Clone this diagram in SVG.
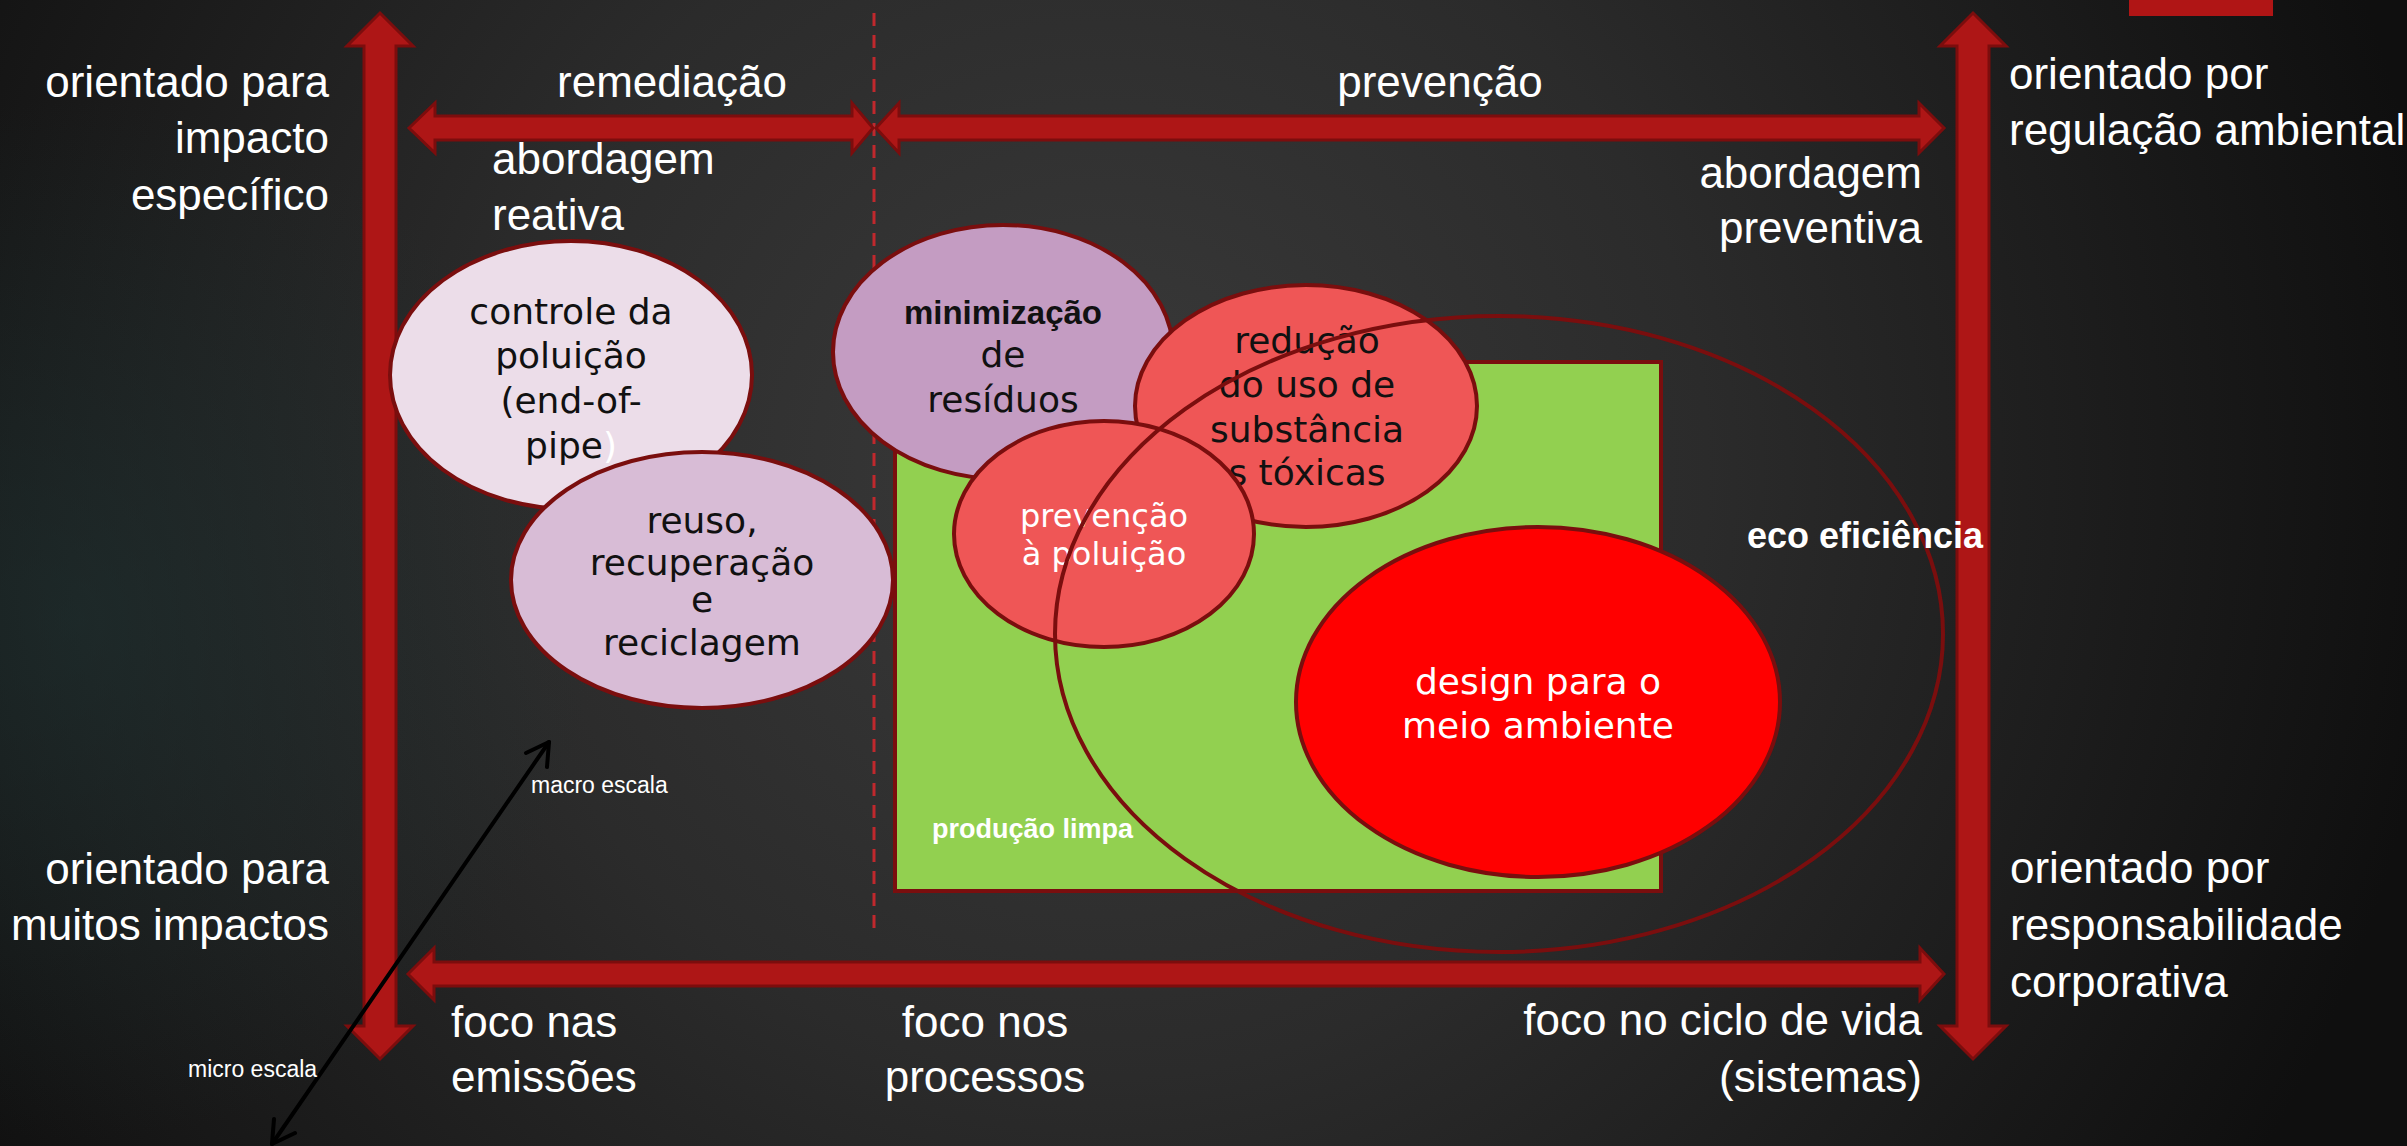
<svg xmlns="http://www.w3.org/2000/svg" width="2407" height="1146" viewBox="0 0 2407 1146">
  <defs>
    <radialGradient id="bg" cx="1100" cy="470" r="1350" gradientUnits="userSpaceOnUse">
      <stop offset="0" stop-color="#3a3a3a"/>
      <stop offset="0.45" stop-color="#2b2b2b"/>
      <stop offset="1" stop-color="#0f0f0f"/>
    </radialGradient>
    <radialGradient id="teal" cx="80" cy="620" r="520" gradientUnits="userSpaceOnUse">
      <stop offset="0" stop-color="#1f3434" stop-opacity="0.55"/>
      <stop offset="1" stop-color="#1f3434" stop-opacity="0"/>
    </radialGradient>
    <style>
      .lbl { font-family: "Liberation Sans", Arial, sans-serif; font-size: 44px; fill: #ffffff; }
      .small { font-family: "Liberation Sans", Arial, sans-serif; font-size: 23px; fill: #ffffff; }
      .bold { font-family: "Liberation Sans", Arial, sans-serif; font-weight: bold; fill: #ffffff; }
      .node { font-family: "DejaVu Sans", "Liberation Sans", sans-serif; font-size: 36px; fill: #111111; text-anchor: middle; }
      .wnode { font-family: "DejaVu Sans", "Liberation Sans", sans-serif; fill: #ffffff; text-anchor: middle; }
      .arrow { fill: #ae1616; stroke: #7c0d0d; stroke-width: 3; stroke-linejoin: miter; }
      .ell { stroke: #7a0e0e; stroke-width: 4; }
      .blk { fill: none; stroke: #000000; stroke-width: 4; stroke-linecap: round; stroke-linejoin: round; }
    </style>
  </defs>

  <rect x="0" y="0" width="2407" height="1146" fill="url(#bg)"/>
  <rect x="0" y="0" width="2407" height="1146" fill="url(#teal)"/>
  <rect x="2129" y="0" width="144" height="16" fill="#b01515"/>

  <g id="connectors">
    <!-- dashed divider -->
    <line x1="874" y1="13" x2="874" y2="937" stroke="#c0282d" stroke-width="3" stroke-dasharray="13 9"/>
    <!-- left vertical double arrow -->
    <polygon class="arrow" points="380,13 413,46 396,46 396,1026 413,1026 380,1059 347,1026 364,1026 364,46 347,46"/>
    <!-- right vertical double arrow -->
    <polygon class="arrow" points="1973,13 2006,46 1989,46 1989,1026 2006,1026 1973,1059 1940,1026 1957,1026 1957,46 1940,46"/>
    <!-- remediação arrow -->
    <polygon class="arrow" points="409,128 435,103 435,116 852,116 852,103 873,128 852,153 852,140 435,140 435,153"/>
    <!-- prevenção arrow -->
    <polygon class="arrow" points="876,128 899,103 899,116 1919,116 1919,103 1944,128 1919,153 1919,140 899,140 899,153"/>
    <!-- bottom arrow -->
    <polygon class="arrow" points="408,974 434,948 434,962 1920,962 1920,948 1944,974 1920,1000 1920,986 434,986 434,1000"/>
    <!-- micro/macro scale arrow -->
    <line class="blk" x1="272" y1="1144" x2="549" y2="742"/>
    <polyline class="blk" points="526,753 549,742 547,767"/>
    <polyline class="blk" points="274,1119 272,1144 295,1133"/>
  </g>

  <g id="producao-limpa">
    <rect x="895" y="362" width="766" height="529" fill="#92d050" stroke="#7a0e0e" stroke-width="4"/>
    <text class="bold" x="932" y="838" font-size="27">produção limpa</text>
  </g>

  <g id="controle-poluicao">
    <ellipse class="ell" cx="571" cy="375" rx="181" ry="134" fill="#ecdde9"/>
    <text class="node" x="571" y="324">controle da</text>
    <text class="node" x="571" y="368">poluição</text>
    <text class="node" x="571" y="413">(end-of-</text>
    <text class="node" x="571" y="458">pipe<tspan fill="#ffffff">)</tspan></text>
  </g>

  <g id="reuso">
    <ellipse class="ell" cx="702" cy="580" rx="191" ry="128" fill="#d8bcd6"/>
    <text class="node" x="702" y="533" font-size="37">reuso,</text>
    <text class="node" x="702" y="575" font-size="33">recuperação</text>
    <text class="node" x="702" y="612" font-size="33">e</text>
    <text class="node" x="702" y="655" font-size="37">reciclagem</text>
  </g>

  <g id="minimizacao">
    <ellipse class="ell" cx="1003" cy="352" rx="170" ry="127" fill="#c49cc2"/>
    <text class="node" x="1003" y="324" style="font-family:'Liberation Sans',Arial,sans-serif;font-weight:bold;font-size:33px">minimização</text>
    <text class="node" x="1003" y="367" font-size="35">de</text>
    <text class="node" x="1003" y="412" font-size="35">resíduos</text>
  </g>

  <g id="reducao">
    <ellipse class="ell" cx="1306" cy="406" rx="171" ry="121" fill="#ef5656"/>
    <text class="node" x="1307" y="353" font-size="35">redução</text>
    <text class="node" x="1307" y="397" font-size="35">do uso de</text>
    <text class="node" x="1307" y="442" font-size="35">substância</text>
    <text class="node" x="1307" y="485" font-size="35">s tóxicas</text>
  </g>

  <g id="prevencao-poluicao">
    <ellipse class="ell" cx="1104" cy="534" rx="150" ry="113" fill="#ef5656"/>
    <text class="wnode" x="1104" y="527" font-size="32">prevenção</text>
    <text class="wnode" x="1104" y="565" font-size="32">à poluição</text>
  </g>

  <g id="design">
    <ellipse class="ell" cx="1538" cy="702" rx="242" ry="175" fill="#ff0000"/>
    <text class="wnode" x="1538" y="694" font-size="36">design para o</text>
    <text class="wnode" x="1538" y="738" font-size="36">meio ambiente</text>
  </g>

  <g id="eco-eficiencia">
    <ellipse cx="1499" cy="634" rx="444" ry="318" fill="none" stroke="#7a0e0e" stroke-width="4"/>
    <text class="bold" x="1747" y="548" font-size="36">eco eficiência</text>
  </g>

  <g id="labels">
    <text class="lbl" x="329" y="97" text-anchor="end">orientado para</text>
    <text class="lbl" x="329" y="153" text-anchor="end">impacto</text>
    <text class="lbl" x="329" y="210" text-anchor="end">específico</text>

    <text class="lbl" x="672" y="97" text-anchor="middle">remediação</text>
    <text class="lbl" x="1440" y="97" text-anchor="middle">prevenção</text>

    <text class="lbl" x="492" y="174">abordagem</text>
    <text class="lbl" x="492" y="230">reativa</text>

    <text class="lbl" x="1922" y="188" text-anchor="end">abordagem</text>
    <text class="lbl" x="1922" y="243" text-anchor="end">preventiva</text>

    <text class="lbl" x="2009" y="89">orientado por</text>
    <text class="lbl" x="2009" y="145">regulação ambiental</text>

    <text class="lbl" x="329" y="884" text-anchor="end">orientado para</text>
    <text class="lbl" x="329" y="940" text-anchor="end">muitos impactos</text>

    <text class="lbl" x="2010" y="883">orientado por</text>
    <text class="lbl" x="2010" y="940">responsabilidade</text>
    <text class="lbl" x="2010" y="997">corporativa</text>

    <text class="lbl" x="451" y="1037">foco nas</text>
    <text class="lbl" x="451" y="1092">emissões</text>

    <text class="lbl" x="985" y="1037" text-anchor="middle">foco nos</text>
    <text class="lbl" x="985" y="1092" text-anchor="middle">processos</text>

    <text class="lbl" x="1922" y="1035" text-anchor="end">foco no ciclo de vida</text>
    <text class="lbl" x="1922" y="1092" text-anchor="end">(sistemas)</text>

    <text class="small" x="531" y="793">macro escala</text>
    <text class="small" x="188" y="1077">micro escala</text>
  </g>
</svg>
